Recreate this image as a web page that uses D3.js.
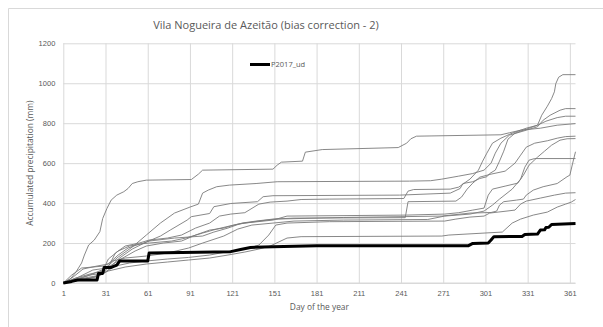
<!DOCTYPE html>
<html>
<head>
<meta charset="utf-8">
<script src="https://cdn.jsdelivr.net/npm/d3@7"></script>
<style>
  html, body { margin: 0; padding: 0; background: #fff; }
  svg { display: block; font-family: "Open Sans", "Liberation Sans", sans-serif; }
</style>
</head>
<body>
<svg id="chart" width="603" height="327"></svg>
<script>
// Accumulated precipitation (mm) by day of the year, [day, mm] at each change of slope.
const P2017_ud = [[1,0],[7,8],[11,15],[25,15],[26,48],[29,48],[30,77],[35,78],[39,90],[41,110],[61,110],[62,150],[120,157],[127,168],[134,178],[150,182],[181,187],[289,187],[292,198],[303,200],[305,215],[307,232],[327,233],[329,243],[338,245],[340,265],[343,266],[344,278],[346,279],[348,293],[365,298]];

const run01 = [[1,0],[6,20],[10,55],[14,100],[16,140],[19,190],[23,215],[27,257],[29,323],[32,373],[35,415],[39,440],[44,457],[47,473],[50,498],[54,507],[60,515],[92,518],[97,545],[100,565],[150,570],[153,590],[156,605],[171,610],[173,655],[185,668],[239,678],[245,700],[248,722],[252,735],[312,742],[318,752],[326,765],[340,775],[352,790],[365,798]];
const run02 = [[1,0],[8,10],[20,40],[30,70],[40,130],[50,180],[60,240],[70,300],[80,350],[91,380],[97,395],[100,450],[104,465],[110,482],[119,490],[138,498],[153,507],[247,510],[262,512],[270,520],[282,535],[292,548],[300,565],[305,600],[308,650],[312,700],[318,740],[330,765],[338,782],[342,815],[347,840],[354,865],[358,873],[365,873]];
const run03 = [[1,0],[10,15],[25,30],[32,60],[40,120],[50,170],[60,205],[70,235],[77,265],[89,315],[92,332],[105,348],[108,382],[120,398],[139,407],[143,432],[150,437],[240,440],[276,450],[283,473],[285,498],[292,507],[297,523],[302,532],[304,548],[308,565],[311,610],[314,660],[317,720],[322,750],[330,770],[338,790],[341,840],[345,885],[348,923],[350,957],[351,998],[353,1030],[356,1043],[365,1043]];
const run04 = [[1,0],[12,20],[28,40],[33,80],[38,150],[45,185],[55,200],[62,215],[75,225],[85,240],[95,275],[105,300],[112,335],[120,345],[130,352],[140,395],[148,405],[160,410],[170,418],[190,420],[243,423],[246,460],[250,468],[276,470],[282,480],[290,520],[296,565],[299,610],[302,650],[306,700],[312,725],[320,750],[330,775],[338,790],[344,810],[352,828],[358,835],[365,835]];
const run05 = [[1,0],[10,25],[20,45],[29,60],[33,120],[40,160],[48,185],[56,195],[62,210],[80,225],[100,235],[108,255],[118,275],[128,300],[138,310],[150,320],[165,325],[244,327],[246,407],[280,410],[284,430],[288,470],[292,500],[297,530],[305,545],[315,560],[322,600],[326,640],[330,680],[336,700],[345,712],[352,725],[358,733],[365,735]];
const run06 = [[1,0],[8,30],[15,70],[25,85],[33,95],[40,140],[47,175],[55,195],[62,200],[78,210],[88,225],[100,250],[110,270],[122,290],[130,300],[150,315],[160,335],[245,340],[272,345],[282,352],[292,365],[300,375],[303,440],[306,470],[315,485],[324,500],[328,540],[332,590],[338,630],[343,660],[348,690],[354,715],[359,722],[365,723]];
const run07 = [[1,0],[12,30],[22,65],[32,75],[42,120],[52,160],[60,185],[72,200],[85,210],[95,240],[105,265],[115,275],[125,295],[140,310],[152,320],[200,328],[270,335],[290,350],[305,353],[309,360],[311,390],[314,407],[323,415],[328,420],[330,440],[335,465],[342,482],[352,498],[359,532],[361,540],[363,600],[365,657]];
const run08 = [[1,0],[7,40],[14,75],[30,85],[36,110],[45,125],[60,135],[75,150],[90,175],[100,200],[115,235],[125,270],[135,290],[150,300],[165,310],[200,315],[260,318],[272,335],[290,345],[300,360],[306,390],[311,420],[320,470],[326,520],[329,580],[332,615],[336,623],[365,623]];
const run09 = [[1,0],[10,20],[20,40],[30,50],[38,85],[48,100],[60,110],[75,120],[90,128],[105,140],[120,160],[133,175],[140,190],[147,240],[152,290],[160,300],[190,307],[272,310],[280,320],[290,330],[300,335],[304,350],[310,355],[322,365],[326,395],[330,410],[340,425],[350,440],[358,450],[365,452]];
const run10 = [[1,0],[15,15],[25,35],[33,60],[45,80],[60,95],[75,105],[90,115],[105,125],[118,140],[130,155],[140,170],[148,185],[160,225],[170,232],[270,235],[275,240],[300,250],[313,255],[320,300],[326,320],[335,340],[345,355],[352,380],[358,395],[362,405],[365,418]];

const ensemble = [run01, run02, run03, run04, run05, run06, run07, run08, run09, run10];

const xTicks = [1, 31, 61, 91, 121, 151, 181, 211, 241, 271, 301, 331, 361];
const yTicks = [0, 200, 400, 600, 800, 1000, 1200];

const titleText = "Vila Nogueira de Azeitão (bias correction - 2)";
const xTitle = "Day of the year";
const yTitle = "Accumulated precipitation (mm)";
const legendLabel = "P2017_ud";

const svg = d3.select("#chart");
const plot = { left: 63.3, right: 575.5, top: 43.3, bottom: 283 };

const x = d3.scaleLinear().domain([1, 365]).range([plot.left, plot.right]);
const y = d3.scaleLinear().domain([0, 1200]).range([plot.bottom, plot.top]);

const textColor = "#595959";
const gridColor = "#d9d9d9";

// chart frame
svg.append("path")
  .attr("d", "M8.5,340 V8.5 H620")
  .attr("fill", "none").attr("stroke", gridColor).attr("stroke-width", 1);

// title
svg.append("text")
  .attr("x", 266).attr("y", 29)
  .attr("text-anchor", "middle")
  .attr("fill", textColor)
  .attr("font-size", 11)
  .text(titleText);

// horizontal grid + y axis labels
const yAxis = d3.axisLeft(y).tickValues(yTicks).tickFormat(d3.format("d"))
  .tickSize(-(plot.right - plot.left)).tickPadding(8);
const gy = svg.append("g").attr("transform", `translate(${plot.left},0)`).call(yAxis);
gy.select(".domain").remove();
gy.selectAll(".tick line").attr("stroke", gridColor);
gy.selectAll(".tick text").attr("fill", textColor).attr("font-size", 7.5);

// vertical grid + x axis labels
const xAxis = d3.axisBottom(x).tickValues(xTicks).tickFormat(d3.format("d"))
  .tickSize(-(plot.bottom - plot.top)).tickPadding(8);
const gx = svg.append("g").attr("transform", `translate(0,${plot.bottom})`).call(xAxis);
gx.select(".domain").remove();
gx.selectAll(".tick line").attr("stroke", gridColor);
gx.selectAll(".tick text").attr("fill", textColor).attr("font-size", 7.5);

// x axis baseline
svg.append("line")
  .attr("x1", plot.left).attr("x2", plot.right)
  .attr("y1", y(0)).attr("y2", y(0))
  .attr("stroke", gridColor);

// axis titles
svg.append("text")
  .attr("x", (plot.left + plot.right) / 2).attr("y", 310)
  .attr("text-anchor", "middle").attr("fill", textColor).attr("font-size", 8.4)
  .text(xTitle);
svg.append("text")
  .attr("transform", `translate(33,${(plot.top + plot.bottom) / 2}) rotate(-90)`)
  .attr("text-anchor", "middle").attr("fill", textColor).attr("font-size", 8.4)
  .text(yTitle);

const line = d3.line().x(d => x(d[0])).y(d => y(d[1]));

// ensemble members
svg.append("g").selectAll("path")
  .data(ensemble)
  .join("path")
  .attr("d", line)
  .attr("fill", "none")
  .attr("stroke", "#7a7a7a")
  .attr("stroke-width", 0.9)
  .attr("stroke-linejoin", "round");

// observed 2017 series
svg.append("path")
  .datum(P2017_ud)
  .attr("d", line)
  .attr("fill", "none")
  .attr("stroke", "#000")
  .attr("stroke-width", 3)
  .attr("stroke-linejoin", "round");

// legend
const lg = svg.append("g");
lg.append("line").attr("x1", 250).attr("x2", 270).attr("y1", 64.5).attr("y2", 64.5)
  .attr("stroke", "#000").attr("stroke-width", 3);
lg.append("text").attr("x", 271).attr("y", 67).attr("fill", textColor).attr("font-size", 7.5)
  .text(legendLabel);
</script>
</body>
</html>
